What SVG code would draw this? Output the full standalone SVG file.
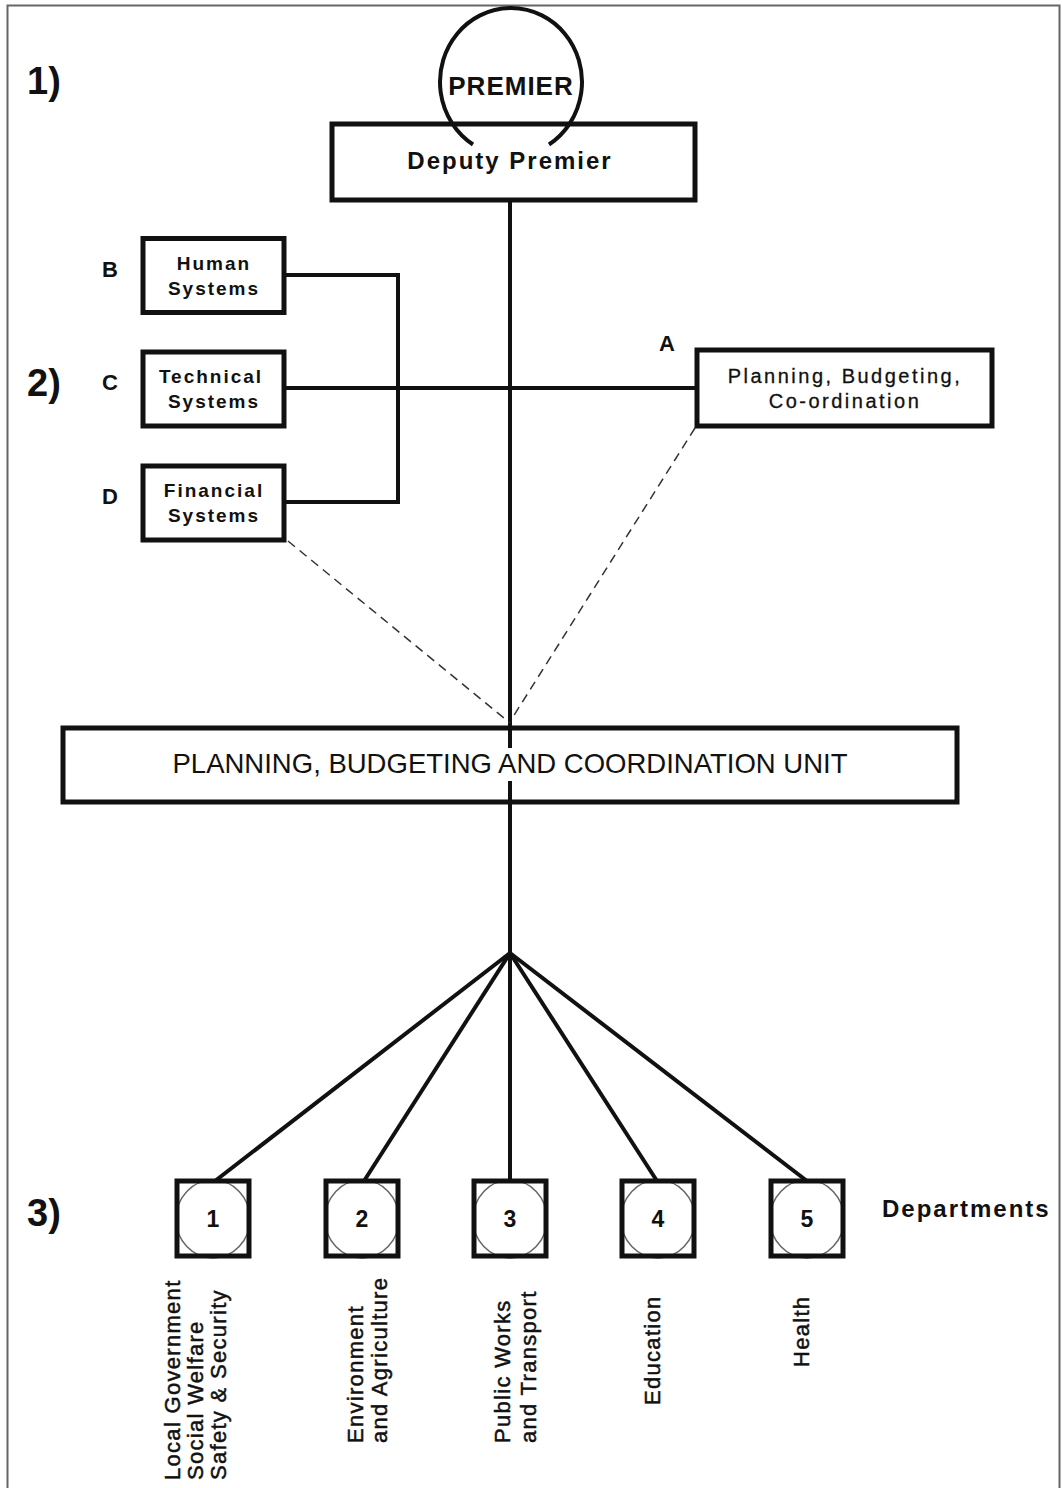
<svg xmlns="http://www.w3.org/2000/svg" width="1062" height="1488" viewBox="0 0 1062 1488">
  <style>
    text { font-family: "Liberation Sans", Arial, sans-serif; fill: #111; }
    .box { fill: #fff; stroke: #111; stroke-width: 5; }
    .frame { fill: none; stroke: #111; stroke-width: 5; }
    .line { fill: none; stroke: #111; stroke-width: 4; }
    .dash { fill: none; stroke: #333; stroke-width: 1.5; stroke-dasharray: 9 6; }
    .ring { fill: none; stroke: #666; stroke-width: 1.5; }
    .sec { font-size: 38px; font-weight: bold; }
    .letter { font-size: 22px; font-weight: bold; }
    .sys { font-size: 19px; font-weight: bold; letter-spacing: 2px; text-anchor: middle; }
    .num { font-size: 23px; font-weight: bold; text-anchor: middle; }
    .dept { font-size: 22px; letter-spacing: 1.3px; stroke: #111; stroke-width: 0.5px; }
  </style>

  <!-- page frame -->
  <path d="M7.5 1488 V5.5 H1059.5 V1488" fill="none" stroke="#666" stroke-width="2"/>

  <!-- section markers -->
  <text class="sec" x="27" y="94">1)</text>
  <text class="sec" x="27" y="396">2)</text>
  <text class="sec" x="27" y="1226">3)</text>

  <!-- connectors -->
  <g id="connectors">
    <line class="line" x1="510" y1="200" x2="510" y2="748"/>
    <line class="line" x1="510" y1="781" x2="510" y2="953"/>
    <path class="line" d="M285 275 H398 V502 H285"/>
    <line class="line" x1="285" y1="388" x2="697" y2="388"/>
    <line class="dash" x1="288" y1="541" x2="510" y2="723"/>
    <line class="dash" x1="695" y1="428" x2="511" y2="720"/>
    <line class="line" x1="510" y1="953" x2="215" y2="1181"/>
    <line class="line" x1="510" y1="953" x2="364" y2="1181"/>
    <line class="line" x1="510" y1="953" x2="510" y2="1181"/>
    <line class="line" x1="510" y1="953" x2="657" y2="1181"/>
    <line class="line" x1="510" y1="953" x2="807" y2="1181"/>
  </g>

  <!-- top of the hierarchy -->
  <g id="deputy-premier">
    <rect class="box" x="332" y="124" width="363" height="76"/>
    <text x="510" y="169" text-anchor="middle" font-size="24" font-weight="bold" letter-spacing="2">Deputy Premier</text>
  </g>
  <g id="premier">
    <path d="M473 144.5 A71 74 0 1 1 549 144.5" fill="none" stroke="#111" stroke-width="4"/>
    <text x="511" y="95" text-anchor="middle" font-size="26" font-weight="bold" letter-spacing="1">PREMIER</text>
  </g>

  <!-- support systems -->
  <g id="human-systems">
    <text class="letter" x="102" y="277">B</text>
    <rect class="box" x="143" y="238.5" width="141" height="74"/>
    <text class="sys" x="214" y="270">Human</text>
    <text class="sys" x="214" y="295">Systems</text>
  </g>
  <g id="technical-systems">
    <text class="letter" x="102" y="390">C</text>
    <rect class="box" x="143" y="352" width="141" height="74"/>
    <text class="sys" x="211" y="383">Technical</text>
    <text class="sys" x="214" y="408">Systems</text>
  </g>
  <g id="financial-systems">
    <text class="letter" x="102" y="504">D</text>
    <rect class="box" x="143" y="466" width="141" height="74"/>
    <text class="sys" x="214" y="497">Financial</text>
    <text class="sys" x="214" y="522">Systems</text>
  </g>
  <g id="planning-coordination">
    <text class="letter" x="659" y="351">A</text>
    <rect class="box" x="697" y="350" width="295" height="76"/>
    <text x="845" y="383" text-anchor="middle" font-size="20" letter-spacing="2.5" stroke="#111" stroke-width="0.3">Planning, Budgeting,</text>
    <text x="845" y="408" text-anchor="middle" font-size="20" letter-spacing="2.5" stroke="#111" stroke-width="0.3">Co-ordination</text>
  </g>

  <!-- central unit -->
  <g id="pbc-unit">
    <rect class="frame" x="63" y="728" width="894" height="74"/>
    <text x="510" y="773" text-anchor="middle" font-size="28" textLength="675" lengthAdjust="spacingAndGlyphs">PLANNING, BUDGETING AND COORDINATION UNIT</text>
  </g>

  <!-- departments -->
  <g id="dept-1">
    <ellipse class="ring" cx="213" cy="1219" rx="37" ry="39"/>
    <rect class="frame" x="177" y="1181" width="72" height="75"/>
    <text class="num" x="213" y="1227">1</text>
    <text class="dept" transform="translate(180 1480) rotate(-90)">Local Government</text>
    <text class="dept" transform="translate(203 1480) rotate(-90)">Social Welfare</text>
    <text class="dept" transform="translate(226 1480) rotate(-90)">Safety &amp; Security</text>
  </g>
  <g id="dept-2">
    <ellipse class="ring" cx="362" cy="1219" rx="37" ry="39"/>
    <rect class="frame" x="326" y="1181" width="72" height="75"/>
    <text class="num" x="362" y="1227">2</text>
    <text class="dept" transform="translate(363 1443) rotate(-90)">Environment</text>
    <text class="dept" transform="translate(387 1443) rotate(-90)">and Agriculture</text>
  </g>
  <g id="dept-3">
    <ellipse class="ring" cx="510" cy="1219" rx="37" ry="39"/>
    <rect class="frame" x="474" y="1181" width="72" height="75"/>
    <text class="num" x="510" y="1227">3</text>
    <text class="dept" transform="translate(510 1443) rotate(-90)">Public Works</text>
    <text class="dept" transform="translate(536 1443) rotate(-90)">and Transport</text>
  </g>
  <g id="dept-4">
    <ellipse class="ring" cx="658" cy="1219" rx="37" ry="39"/>
    <rect class="frame" x="622" y="1181" width="72" height="75"/>
    <text class="num" x="658" y="1227">4</text>
    <text class="dept" transform="translate(660 1405) rotate(-90)">Education</text>
  </g>
  <g id="dept-5">
    <ellipse class="ring" cx="807" cy="1219" rx="37" ry="39"/>
    <rect class="frame" x="771" y="1181" width="72" height="75"/>
    <text class="num" x="807" y="1227">5</text>
    <text class="dept" transform="translate(809 1367) rotate(-90)">Health</text>
  </g>
  <text x="882" y="1217" font-size="24" font-weight="bold" letter-spacing="2">Departments</text>
</svg>
